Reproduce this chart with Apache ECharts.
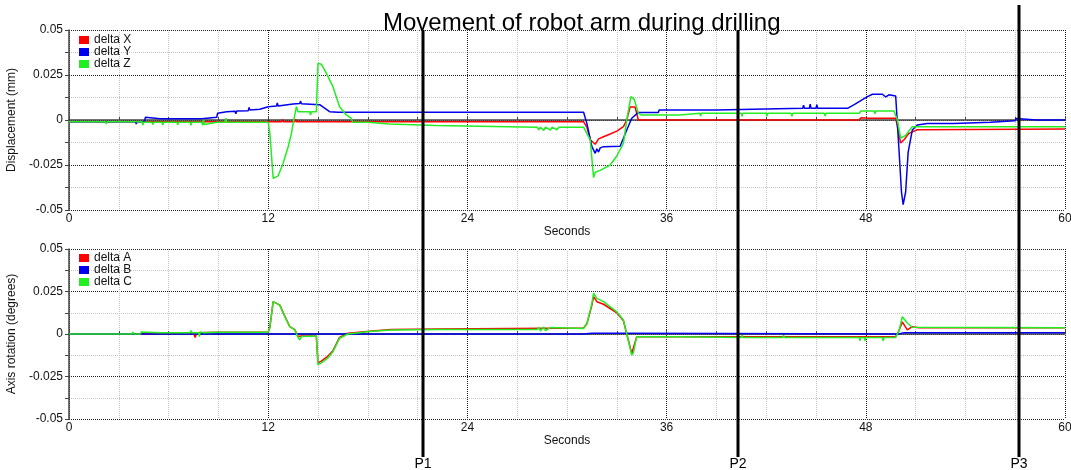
<!DOCTYPE html>
<html>
<head>
<meta charset="utf-8">
<script src="https://cdn.jsdelivr.net/npm/echarts@6/dist/echarts.min.js"></script>
<style>
  html, body { margin: 0; padding: 0; background: #fff; }
  #main { width: 1071px; height: 470px; }
</style>
</head>
<body>
<div id="main"></div>
<script>
// 上图：位移 (mm)
const deltaX = [
  [0, -0.001], [9, -0.001], [12.8, -0.001], [12.85, 0.0002], [12.9, -0.001],
  [13.6, -0.001], [13.65, 0.0004], [13.7, -0.001], [15.0, -0.001], [15.05, 0.0], [15.1, -0.001],
  [31.0, -0.001], [31.2, -0.004], [31.4, -0.011], [31.7, -0.0135], [31.9, -0.0105], [32.2, -0.0093],
  [32.6, -0.0078], [33.0, -0.0062], [33.4, -0.0037], [33.6, 0.0], [33.8, 0.0072], [34.1, 0.0072],
  [34.3, 0.0], [47.6, 0.0], [47.7, 0.0012], [47.8, 0.0005], [48.2, 0.001], [49.8, 0.001],
  [50.0, -0.008], [50.1, -0.0128], [50.3, -0.011], [50.6, -0.0074], [51.1, -0.0054], [60, -0.005]
];
const deltaY = [
  [0, -0.001], [0.45, -0.001], [0.5, -0.002], [0.55, -0.001], [1.5, -0.001], [1.55, -0.0018], [1.6, -0.001],
  [2.6, -0.001], [2.65, -0.002], [2.7, -0.001], [3.2, -0.001], [3.25, -0.002], [3.3, -0.001],
  [4.0, -0.001], [4.05, -0.0022], [4.1, -0.001], [4.55, -0.001], [4.6, 0.0015], [4.7, 0.0007],
  [5.5, 0.0007], [5.55, 0.0012], [5.6, 0.0007], [6.6, 0.0007], [6.65, 0.0002], [6.7, 0.0007],
  [8.0, 0.0007], [8.05, 0.0015], [8.9, 0.0015], [8.95, 0.0037], [9.5, 0.0046], [10.0, 0.0048],
  [10.05, 0.0035], [10.1, 0.005], [10.8, 0.0052], [10.85, 0.007], [10.9, 0.0055], [11.5, 0.006],
  [12.0, 0.0074], [12.5, 0.0078], [12.55, 0.0095], [12.6, 0.0078], [13.5, 0.0089], [13.9, 0.0092],
  [13.95, 0.0105], [14.0, 0.009], [15.1, 0.0085], [15.7, 0.0046], [16.2, 0.0043],
  [18.0, 0.0043], [18.05, 0.0032], [18.1, 0.0043], [20.5, 0.0043], [20.55, 0.0033], [20.6, 0.0043],
  [23.0, 0.0043], [23.05, 0.0032], [23.1, 0.0043], [26.0, 0.0043], [26.05, 0.0033], [26.1, 0.0043],
  [29.0, 0.0043], [29.05, 0.0033], [29.1, 0.0043], [31.0, 0.0043], [31.2, -0.002], [31.5, -0.0148],
  [31.7, -0.0185], [31.8, -0.016], [31.9, -0.0178], [32.0, -0.0155], [32.2, -0.0148], [33.2, -0.0146],
  [33.6, -0.0056], [33.9, 0.001], [34.3, 0.0042], [35.5, 0.0042], [35.55, 0.0056], [39.0, 0.0056],
  [39.05, 0.0065], [44.2, 0.0065], [44.25, 0.0082], [44.3, 0.0065], [44.6, 0.0065], [44.65, 0.0088],
  [44.7, 0.0065], [45.0, 0.0065], [45.05, 0.0085], [45.1, 0.0065], [46.9, 0.0065], [47.3, 0.0085],
  [48.1, 0.013], [48.4, 0.0143], [49.0, 0.0143], [49.2, 0.0128], [49.4, 0.014], [49.8, 0.0133],
  [50.0, -0.0167], [50.15, -0.04], [50.25, -0.047], [50.4, -0.04], [50.55, -0.018], [50.8, -0.0056],
  [51.1, -0.0028], [51.7, -0.0019], [53.3, -0.0019], [53.35, -0.0013], [55.5, -0.0013],
  [55.55, -0.0004], [57.0, -0.0004], [57.05, 0.0008], [57.1, 0.0], [58.3, 0.0], [58.35, 0.0009],
  [58.4, 0.0], [60, 0.0]
];
const deltaZ = [
  [0, -0.001], [1.0, -0.001], [1.05, -0.002], [1.1, -0.001], [2.2, -0.001], [2.25, -0.0022], [2.3, -0.001],
  [3.5, -0.001], [3.55, -0.002], [3.6, -0.001], [4.4, -0.001], [4.45, -0.0028], [4.5, -0.0012],
  [5.0, -0.0012], [5.05, -0.0025], [5.1, -0.0012], [5.6, -0.0012], [5.65, -0.0028], [5.7, -0.0012],
  [6.5, -0.0012], [6.55, -0.0026], [6.6, -0.0012], [7.3, -0.0012], [7.35, -0.003], [7.4, -0.0012],
  [8.0, -0.0012], [8.05, -0.003], [8.1, 0.0002], [8.15, -0.0025], [8.9, -0.0013], [9.4, -0.0013],
  [9.45, 0.001], [9.5, -0.0013], [12.0, -0.0013], [12.1, -0.0074], [12.3, -0.0324], [12.4, -0.0333],
  [12.6, -0.031], [12.9, -0.024], [13.2, -0.015], [13.4, -0.0074], [13.5, -0.002], [13.7, 0.0074],
  [13.8, 0.0046], [14.5, 0.0046], [14.55, 0.0028], [14.6, 0.0046], [14.9, 0.0046], [15.0, 0.0315],
  [15.2, 0.031], [15.5, 0.026], [15.9, 0.0185], [16.3, 0.0074], [16.7, 0.0028], [17.0, 0.001],
  [17.1, -0.0013], [18.0, -0.0013], [18.1, -0.0022], [19.3, -0.0022], [19.4, -0.0031], [22.1, -0.0031],
  [22.2, -0.004], [28.2, -0.004], [28.3, -0.0055], [28.4, -0.004], [28.6, -0.0058], [28.7, -0.004],
  [29.0, -0.0056], [29.1, -0.004], [29.4, -0.0054], [29.5, -0.004], [31.0, -0.004], [31.4, -0.011],
  [31.6, -0.032], [31.7, -0.029], [32.0, -0.028], [32.6, -0.025], [33.0, -0.02], [33.4, -0.0128],
  [33.6, 0.0], [33.85, 0.013], [34.05, 0.0115], [34.3, 0.0037], [34.5, 0.0028], [36.8, 0.0028],
  [36.85, 0.0037], [38.0, 0.0037], [38.05, 0.0022], [38.1, 0.0037], [40.5, 0.0037], [40.55, 0.002],
  [40.6, 0.0037], [42.0, 0.0037], [42.05, 0.0022], [42.1, 0.0037], [43.5, 0.0037], [43.55, 0.002],
  [43.6, 0.0037], [45.5, 0.0037], [45.55, 0.0022], [45.6, 0.0037], [47.6, 0.0037], [47.7, 0.005],
  [48.5, 0.005], [48.55, 0.0035], [48.6, 0.005], [49.7, 0.005], [49.9, 0.0], [50.1, -0.01],
  [50.4, -0.0085], [50.8, -0.0037], [60, -0.0037]
];

// 下图：轴转角 (degrees)
const deltaA = [
  [0, 0], [4.4, 0], [4.5, 0.0008], [7.5, 0.0008], [7.6, -0.002], [7.7, 0.0008], [8.9, 0.001],
  [12.0, 0.001], [12.1, 0.004], [12.3, 0.019], [12.4, 0.0198], [12.7, 0.017], [13.0, 0.0105],
  [13.3, 0.0043], [13.6, 0.0026], [13.8, -0.0015], [14.0, -0.0012], [14.9, -0.0012], [15.0, -0.017],
  [15.2, -0.016], [15.6, -0.013], [15.9, -0.0098], [16.3, -0.002], [16.8, 0.0005], [18.1, 0.0016],
  [19.4, 0.0026], [22.2, 0.0029], [31.0, 0.0035], [31.2, 0.006], [31.5, 0.017], [31.6, 0.022],
  [31.8, 0.019], [32.2, 0.0175], [33.0, 0.0125], [33.4, 0.0078], [33.6, 0.0], [33.9, -0.0115],
  [34.0, -0.0105], [34.2, -0.0016], [49.8, -0.0016], [50.0, 0.002], [50.2, 0.0071], [50.5, 0.0024],
  [50.8, 0.0043], [51.2, 0.0037], [60, 0.0037]
];
const deltaB = [
  [0, 0], [31.0, 0], [31.5, 0.0004], [33.5, 0.0004], [33.6, 0], [50.0, 0], [50.3, 0.0008], [60, 0.0008]
];
const deltaC = [
  [0, 0], [1.0, 0], [1.05, 0.0008], [1.1, 0], [2.0, 0], [2.05, 0.001], [2.1, 0], [3.3, 0], [3.35, 0.001],
  [3.4, 0], [3.8, 0], [3.85, 0.0012], [3.9, 0], [4.3, 0], [4.35, 0.0012], [4.4, 0.0008], [5.5, 0.0008],
  [5.55, 0.0016], [5.6, 0.0008], [7.3, 0.0008], [7.35, 0.002], [7.4, 0.0008], [7.8, 0.0008],
  [7.85, -0.0015], [7.9, 0.0012], [8.1, 0.0008], [8.9, 0.001], [12.0, 0.001], [12.1, 0.004],
  [12.3, 0.019], [12.4, 0.0196], [12.7, 0.017], [13.0, 0.0102], [13.3, 0.0043], [13.6, 0.0024],
  [13.8, -0.002], [13.9, -0.0035], [14.0, -0.0015], [14.9, -0.0012], [15.0, -0.018], [15.2, -0.017],
  [15.6, -0.014], [15.9, -0.0104], [16.3, -0.0025], [16.8, 0.0], [18.1, 0.0014], [19.4, 0.0024],
  [22.2, 0.0027], [28.2, 0.0027], [28.3, 0.004], [28.4, 0.0018], [28.6, 0.0042], [28.7, 0.002],
  [29.0, 0.0038], [29.1, 0.0027], [31.0, 0.0033], [31.2, 0.006], [31.5, 0.018], [31.6, 0.024],
  [31.8, 0.021], [32.2, 0.019], [33.0, 0.013], [33.4, 0.0082], [33.6, 0.0], [33.9, -0.0124],
  [34.0, -0.011], [34.2, -0.0016], [36.8, -0.0016], [36.9, -0.002], [40.5, -0.002], [40.55, -0.0008],
  [40.6, -0.002], [43.0, -0.002], [43.05, -0.0008], [43.1, -0.002], [47.6, -0.002], [47.65, -0.004],
  [47.7, -0.002], [47.9, -0.002], [47.95, -0.004], [48.0, -0.002], [49.0, -0.002], [49.05, -0.004],
  [49.1, -0.002], [49.8, -0.002], [50.0, 0.002], [50.2, 0.0102], [50.5, 0.0065], [50.8, 0.004],
  [60, 0.0037]
];

// 钻孔位置 P1 P2 P3 (秒)
const markerTimes = [21.31, 40.32, 57.25];
const markerLabels = ['P1', 'P2', 'P3'];

const titleText = 'Movement of robot arm during drilling';
const xTicks = { min: 0, max: 60, interval: 12 };
const yTicks = { min: -0.05, max: 0.05, interval: 0.025 };

const FONT = 'Liberation Sans';
const RED = '#ff0000', BLUE = '#0000ee', GREEN = '#22ee22';

const chart = echarts.init(document.getElementById('main'));

const makeX = (gridIndex) => ({
  type: 'value',
  gridIndex,
  min: xTicks.min,
  max: xTicks.max,
  interval: xTicks.interval,
  name: 'Seconds',
  nameLocation: 'middle',
  nameGap: 13,
  nameTextStyle: { fontFamily: FONT, fontSize: 12, color: '#111' },
  axisLine: { lineStyle: { color: '#444', width: 1.5 } },
  axisTick: { inside: true, length: 4, lineStyle: { color: '#444' } },
  minorTick: { show: true, splitNumber: 4, length: 3, lineStyle: { color: '#444' } },
  axisLabel: { fontFamily: FONT, fontSize: 12, color: '#111', margin: 3 },
  splitLine: { lineStyle: { color: '#222', type: 'dotted', width: 1 } },
  minorSplitLine: { show: true, lineStyle: { color: '#c4c4c4', type: 'dotted', width: 1 } }
});

const makeY = (gridIndex, name) => ({
  type: 'value',
  gridIndex,
  min: yTicks.min,
  max: yTicks.max,
  interval: yTicks.interval,
  name,
  nameLocation: 'middle',
  nameGap: 40,
  nameTextStyle: { fontFamily: FONT, fontSize: 12, color: '#111' },
  axisLine: { show: true, lineStyle: { color: '#444', width: 1.5 } },
  axisTick: { show: true, length: 4, lineStyle: { color: '#444' } },
  minorTick: { show: true, splitNumber: 2, length: 4, lineStyle: { color: '#444' } },
  axisLabel: { fontFamily: FONT, fontSize: 12, color: '#111', margin: 6 },
  splitLine: { lineStyle: { color: '#222', type: 'dotted', width: 1 } },
  minorSplitLine: { show: true, lineStyle: { color: '#c4c4c4', type: 'dotted', width: 1 } }
});

const line = (name, data, color, idx) => ({
  name,
  type: 'line',
  xAxisIndex: idx,
  yAxisIndex: idx,
  data,
  showSymbol: false,
  color,
  lineStyle: { color, width: 1.5 }
});

const legendStyle = (top, data) => ({
  data,
  orient: 'vertical',
  left: 74,
  top,
  icon: 'rect',
  itemWidth: 10,
  itemHeight: 8,
  itemGap: 0,
  textStyle: { fontFamily: FONT, fontSize: 12, color: '#111', lineHeight: 12 }
});

const option = {
  animation: false,
  backgroundColor: '#fff',
  title: {
    text: titleText,
    left: 378,
    top: 6,
    textStyle: { fontFamily: FONT, fontSize: 24, fontWeight: 'normal', color: '#000' }
  },
  legend: [
    legendStyle(29, ['delta X', 'delta Y', 'delta Z']),
    legendStyle(247, ['delta A', 'delta B', 'delta C'])
  ],
  grid: [
    { left: 69, top: 30, width: 996, height: 180, outerBoundsMode: 'none' },
    { left: 69, top: 249, width: 996, height: 170, outerBoundsMode: 'none' }
  ],
  xAxis: [makeX(0), makeX(1)],
  yAxis: [makeY(0, 'Displacement (mm)'), makeY(1, 'Axis rotation (degrees)')],
  series: [
    line('delta X', deltaX, RED, 0),
    line('delta Y', deltaY, BLUE, 0),
    line('delta Z', deltaZ, GREEN, 0),
    line('delta A', deltaA, RED, 1),
    line('delta B', deltaB, BLUE, 1),
    line('delta C', deltaC, GREEN, 1)
  ]
};

chart.setOption(option);

// 竖线贯穿两图，x 由坐标轴换算
const lineTops = [30, 30, 5];
const graphic = [];
markerTimes.forEach((t, i) => {
  const x = Math.round(chart.convertToPixel({ gridIndex: 0 }, [t, 0])[0]);
  graphic.push({
    type: 'line',
    shape: { x1: x, y1: lineTops[i], x2: x, y2: 457 },
    style: { stroke: '#000', lineWidth: 3 },
    z: 100
  });
  graphic.push({
    type: 'text',
    x,
    y: 464,
    style: {
      text: markerLabels[i],
      fontFamily: FONT,
      fontSize: 14,
      fill: '#000',
      textAlign: 'center',
      textVerticalAlign: 'middle'
    },
    z: 100
  });
});
chart.setOption({ graphic });
</script>
</body>
</html>
